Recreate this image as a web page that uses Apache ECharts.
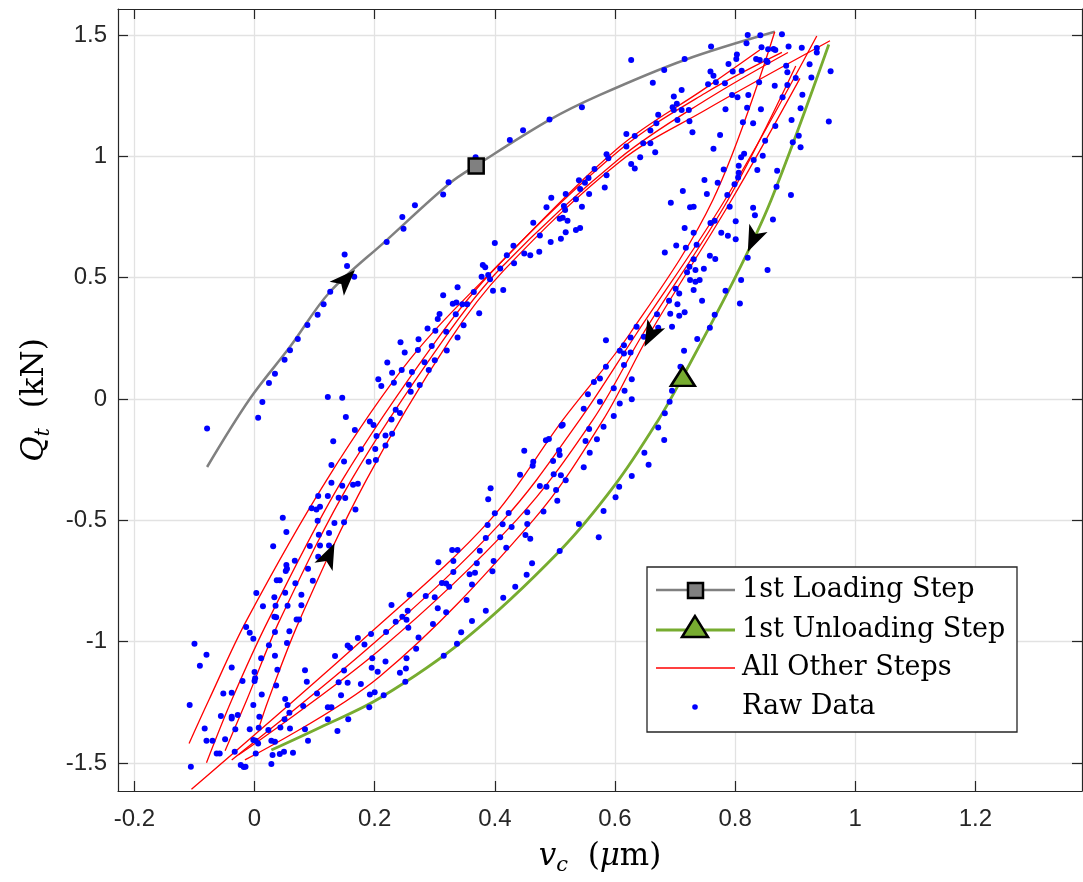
<!DOCTYPE html>
<html>
<head>
<meta charset="utf-8">
<title>Hysteresis steps</title>
<script src="https://cdn.jsdelivr.net/npm/echarts@6/dist/echarts.min.js"></script>
<style>
html, body { margin: 0; padding: 0; background: #fff; }
#main { width: 1083px; height: 882px; }
</style>
</head>
<body>
<div id="main"></div>
<script>
// tick values of the two axes
var xTicks = [-0.2, 0, 0.2, 0.4, 0.6, 0.8, 1, 1.2];
var yTicks = [-1.5, -1, -0.5, 0, 0.5, 1, 1.5];

// 1st loading step (grey) and 1st unloading step (green), [v_c, Q_t]
var firstLoading = [[-0.079,-0.28],[-0.008,0.0],[0.059,0.215],[0.125,0.44],[0.22,0.655],[0.325,0.889],[0.368,0.961],
    [0.491,1.15],[0.575,1.253],[0.716,1.397],[0.866,1.513]];
var firstUnloading = [[0.028,-1.446],[0.109,-1.353],[0.208,-1.233],[0.35,-0.99],[0.508,-0.626],[0.6,-0.354],
    [0.672,-0.087],[0.713,0.092],[0.8,0.5],[0.86,0.82],[0.956,1.461]];

// all other steps (red): loading branches then unloading branches
var loading1 = [[-0.109,-1.419],[-0.076,-1.24],[-0.013,-0.911],[0.12,-0.334],[0.258,0.161],[0.403,0.545],[0.608,1.04],[0.75,1.28],[0.841,1.438]];
var loading2 = [[-0.080,-1.499],[-0.038,-1.24],[0.023,-0.911],[0.146,-0.334],[0.303,0.243],[0.403,0.545],[0.608,1.026],[0.75,1.26],[0.878,1.428]];
var loading3 = [[-0.049,-1.449],[-0.013,-1.24],[0.042,-0.911],[0.161,-0.334],[0.314,0.243],[0.41,0.54],[0.608,0.992],[0.75,1.23],[0.888,1.428]];
var loading4 = [[0.006,-1.364],[0.023,-1.24],[0.075,-0.911],[0.186,-0.334],[0.325,0.243],[0.415,0.53],[0.608,0.978],[0.75,1.19],[0.958,1.476]];
var unloading1 = [[-0.105,-1.608],[0.192,-0.965],[0.392,-0.499],[0.513,-0.087],[0.625,0.27],[0.763,0.82],[0.866,1.513]];
var unloading2 = [[-0.038,-1.487],[0.208,-0.986],[0.414,-0.499],[0.541,-0.087],[0.636,0.27],[0.783,0.82],[0.936,1.496]];
var unloading3 = [[-0.027,-1.467],[0.208,-1.034],[0.436,-0.499],[0.563,-0.087],[0.647,0.27],[0.788,0.82],[0.901,1.372]];
var unloading4 = [[-0.016,-1.487],[0.208,-1.144],[0.464,-0.499],[0.580,-0.087],[0.658,0.27],[0.794,0.82],[0.908,1.321]];
var otherSteps = [loading1, loading2, loading3, loading4, unloading1, unloading2, unloading3, unloading4];

// markers on the first steps
var loadingMarker = [0.369, 0.960];
var unloadingMarker = [0.713, 0.093];

// direction arrows (centre) and their rotation in degrees (counter-clockwise from up)
var arrowPoints = [[0.152,0.493],[0.124,-0.643],[0.659,0.263],[0.830,0.656]];
var arrowAngles = [-44.5, -25, 153, 156];

// raw measurements
var rawData = [
    [-0.079,-0.121],[0.006,-0.077],[0.013,-0.012],[0.024,0.066],[0.034,0.104],[0.050,0.162],[0.059,0.201],[0.072,0.247],
    [0.088,0.305],[0.105,0.347],[0.115,0.391],[0.126,0.442],[0.150,0.595],[0.154,0.548],[0.166,0.504],[0.220,0.647],[0.248,0.702],
    [0.122,0.008],[0.146,0.005],[0.152,-0.074],[0.167,-0.128],[0.131,-0.174],[0.128,-0.272],[0.149,-0.257],[0.177,-0.207],
    [0.192,-0.093],[0.198,-0.107],[0.203,-0.152],[0.201,-0.206],[0.190,-0.258],[0.202,-0.251],[0.218,-0.150],[0.218,-0.191],
    [0.229,-0.143],[0.228,-0.084],[0.235,-0.044],[0.242,-0.058],[0.206,0.081],[0.211,0.054],[0.221,0.150],[0.229,0.108],
    [0.232,0.067],[0.243,0.234],[0.250,0.192],[0.257,0.059],
    [0.128,-0.345],[0.146,-0.357],[0.164,-0.353],[0.172,-0.349],[0.106,-0.400],[0.122,-0.400],[0.140,-0.407],[0.151,-0.408],
    [0.095,-0.450],[0.103,-0.455],[0.109,-0.444],[0.168,-0.455],[0.047,-0.489],[0.105,-0.501],[0.133,-0.511],[0.149,-0.508],
    [0.053,-0.548],[0.107,-0.559],[0.124,-0.552],[0.031,-0.607],[0.092,-0.606],[0.109,-0.604],[0.124,-0.603],[0.106,-0.650],
    [0.067,-0.666],[0.053,-0.684],[0.054,-0.699],[0.052,-0.709],[0.089,-0.699],[0.037,-0.747],[0.042,-0.747],[0.097,-0.749],
    [0.068,-0.759],[0.003,-0.799],[0.051,-0.798],[0.078,-0.806],[0.033,-0.817],[0.014,-0.854],[0.035,-0.852],[0.055,-0.852],
    [0.078,-0.850],[0.033,-0.897],[0.036,-0.899],[0.070,-0.908],[0.074,-0.908],[-0.014,-0.939],[-0.008,-0.963],[-0.002,-0.988],
    [0.034,-0.960],[0.058,-0.957],[0.054,-1.005],[0.024,-1.014],[-0.100,-1.008],[-0.080,-1.054],[-0.091,-1.099],[-0.038,-1.106],
    [0.011,-1.068],[0.034,-1.058],[0.038,-1.115],[0.000,-1.125],[0.001,-1.150],[0.000,-1.162],[-0.020,-1.162],[0.036,-1.180],
    [-0.052,-1.213],[-0.038,-1.210],[0.012,-1.217],[0.051,-1.236],
    [0.228,-0.849],[0.219,-0.960],[0.235,-0.918],[0.246,-0.897],[0.242,-1.128],[0.253,-1.068],[0.252,-1.110],[0.251,-1.165],
    [0.194,-0.968],[0.183,-1.011],[0.172,-0.985],[0.155,-1.016],[0.159,-1.025],[0.134,-1.059],[0.196,-1.068],[0.218,-1.081],
    [0.195,-1.107],[0.205,-1.124],[0.149,-1.119],[0.084,-1.118],[0.087,-1.165],[0.140,-1.167],[0.155,-1.169],[0.177,-1.174],
    [0.192,-1.217],[0.200,-1.208],[0.215,-1.220],[0.104,-1.213],[0.144,-1.220],
    [-0.108,-1.261],[-0.002,-1.261],[-0.038,-1.309],[-0.056,-1.306],[-0.038,-1.316],[-0.028,-1.302],[0.008,-1.309],[-0.083,-1.357],
    [-0.032,-1.361],[-0.008,-1.361],[0.007,-1.354],[0.023,-1.364],[0.043,-1.353],[0.059,-1.358],[0.050,-1.319],[0.058,-1.293],
    [0.055,-1.261],[-0.080,-1.408],[-0.070,-1.408],[-0.049,-1.402],[-0.002,-1.405],[0.002,-1.408],[0.006,-1.419],[0.028,-1.408],
    [0.034,-1.412],[-0.063,-1.460],[-0.058,-1.460],[-0.033,-1.453],[0.002,-1.460],[0.030,-1.467],[0.042,-1.463],[0.049,-1.453],
    [0.064,-1.457],[0.089,-1.408],[0.084,-1.361],[-0.106,-1.515],[-0.023,-1.508],[-0.018,-1.516],[-0.015,-1.515],[0.028,-1.504],
    [0.122,-1.270],[0.128,-1.270],[0.122,-1.319],[0.138,-1.368],[0.156,-1.319],[0.191,-1.270],[0.081,-1.265],
    [0.449,-0.213],[0.464,-0.258],[0.463,-0.275],[0.485,-0.170],[0.490,-0.165],[0.511,-0.110],[0.513,-0.106],[0.557,-0.124],
    [0.581,-0.114],[0.570,-0.166],[0.551,-0.173],[0.558,-0.221],[0.507,-0.211],[0.508,-0.231],[0.497,-0.255],[0.548,-0.281],
    [0.498,-0.310],[0.510,-0.314],[0.518,-0.335],[0.442,-0.312],[0.475,-0.358],[0.486,-0.361],[0.502,-0.375],[0.504,-0.419],
    [0.481,-0.463],[0.454,-0.467],[0.393,-0.368],[0.389,-0.413],[0.400,-0.471],[0.423,-0.470],[0.413,-0.516],[0.428,-0.527],
    [0.454,-0.515],[0.451,-0.560],[0.459,-0.576],[0.409,-0.570],[0.385,-0.573],[0.388,-0.519],[0.419,-0.613],[0.375,-0.625],
    [0.329,-0.622],[0.338,-0.622],[0.540,-0.515],[0.573,-0.570],[0.581,-0.461],[0.601,-0.405],[0.607,-0.361],[0.628,-0.317],
    [0.649,-0.221],[0.656,-0.271],[0.672,-0.117],[0.682,-0.169],[0.508,-0.626],[0.398,-0.667],[0.396,-0.710],[0.462,-0.677],
    [0.453,-0.724],[0.414,-0.819],[0.434,-0.773],[0.385,-0.872],[0.362,-0.915],[0.353,-0.828],[0.362,-0.764],[0.370,-0.677],
    [0.367,-0.716],[0.358,-0.722],[0.331,-0.667],[0.331,-0.713],[0.312,-0.758],[0.319,-0.760],[0.324,-0.773],[0.306,-0.672],
    [0.285,-0.812],[0.300,-0.817],[0.305,-0.862],[0.319,-0.879],[0.297,-0.927],[0.258,-0.806],[0.255,-0.872],[0.253,-0.909],
    [0.256,-0.942],[0.273,-0.983],[0.344,-0.961],[0.337,-1.008],[0.269,-1.029],[0.315,-1.058],
    [0.246,0.750],[0.267,0.798],[0.314,0.843],[0.323,0.893],[0.368,0.996],[0.425,1.067],[0.447,1.107],[0.491,1.152],[0.545,1.202],
    [0.400,0.643],[0.380,0.552],[0.384,0.543],[0.378,0.504],[0.389,0.511],[0.392,0.494],[0.409,0.538],[0.420,0.592],
    [0.431,0.632],[0.432,0.559],[0.449,0.600],[0.459,0.592],[0.474,0.607],[0.464,0.726],[0.475,0.674],[0.493,0.647],
    [0.486,0.790],[0.494,0.829],[0.510,0.660],[0.508,0.743],[0.513,0.747],[0.521,0.735],[0.518,0.687],[0.515,0.795],
    [0.517,0.779],[0.518,0.845],[0.535,0.823],[0.545,0.792],[0.535,0.696],[0.542,0.705],[0.542,0.865],[0.540,0.901],
    [0.550,0.891],[0.557,0.845],[0.566,0.948],[0.556,0.911],[0.586,1.009],[0.589,0.992],[0.586,0.922],[0.583,0.872],
    [0.314,0.428],[0.338,0.461],[0.330,0.393],[0.336,0.398],[0.346,0.391],[0.354,0.391],[0.365,0.441],[0.397,0.446],
    [0.414,0.449],[0.374,0.353],[0.308,0.350],[0.305,0.330],[0.301,0.281],[0.288,0.291],[0.319,0.277],[0.335,0.349],
    [0.348,0.304],[0.338,0.254],[0.273,0.246],
    [0.627,1.397],[0.682,1.356],[0.716,1.401],[0.760,1.452],[0.821,1.500],[0.842,1.499],[0.878,1.503],[0.864,1.442],
    [0.867,1.438],[0.819,1.466],[0.844,1.449],[0.855,1.441],[0.889,1.452],[0.911,1.447],[0.936,1.446],[0.936,1.428],
    [0.803,1.420],[0.802,1.401],[0.789,1.380],[0.835,1.401],[0.841,1.397],[0.852,1.394],[0.854,1.389],[0.885,1.373],
    [0.887,1.346],[0.924,1.379],[0.959,1.351],[0.927,1.325],[0.796,1.349],[0.811,1.353],[0.759,1.349],[0.764,1.332],
    [0.768,1.305],[0.755,1.297],[0.783,1.301],[0.663,1.303],[0.711,1.273],[0.698,1.246],[0.703,1.217],[0.711,1.191],
    [0.696,1.202],[0.698,1.191],[0.723,1.191],[0.724,1.144],[0.704,1.150],[0.729,1.099],[0.672,1.171],[0.669,1.136],
    [0.659,1.106],[0.633,1.084],[0.619,1.092],[0.619,1.040],[0.647,1.054],[0.659,1.054],[0.667,1.017],[0.642,0.996],
    [0.627,0.968],[0.633,0.950],[0.713,0.857],[0.795,1.253],[0.804,1.243],[0.822,1.253],[0.784,1.194],[0.820,1.200],
    [0.843,1.194],[0.866,1.291],[0.879,1.243],[0.887,1.294],[0.840,1.305],[0.901,1.323],[0.912,1.254],[0.909,1.198],
    [0.894,1.150],[0.813,1.140],[0.830,1.136],[0.775,1.088],[0.764,1.031],[0.815,1.011],[0.806,0.961],[0.806,0.932],
    [0.781,0.946],[0.805,0.913],[0.810,0.996],[0.831,0.985],[0.837,0.944],[0.846,1.002],[0.850,1.064],[0.867,1.125],
    [0.906,1.085],[0.909,1.037],[0.896,1.058],[0.870,0.941],[0.956,1.143],[0.869,0.875],[0.893,0.841],[0.799,0.885],
    [0.771,0.891],[0.749,0.902],[0.753,0.845],[0.787,0.841],
    [0.693,0.809],[0.725,0.790],[0.731,0.792],[0.791,0.792],[0.830,0.788],[0.833,0.757],[0.863,0.740],[0.801,0.733],
    [0.766,0.735],[0.759,0.725],[0.716,0.705],[0.731,0.685],[0.777,0.685],[0.788,0.673],[0.801,0.658],[0.702,0.633],
    [0.718,0.623],[0.736,0.636],[0.683,0.604],[0.758,0.590],[0.767,0.577],[0.731,0.576],[0.821,0.582],[0.724,0.545],
    [0.734,0.532],[0.748,0.537],[0.720,0.522],[0.854,0.532],[0.725,0.490],[0.734,0.483],[0.741,0.490],[0.810,0.490],
    [0.701,0.454],[0.731,0.449],[0.707,0.435],[0.784,0.446],[0.690,0.405],[0.704,0.391],[0.745,0.405],[0.808,0.394],
    [0.692,0.351],[0.707,0.343],[0.716,0.358],[0.670,0.349],[0.766,0.347],[0.636,0.298],[0.672,0.294],[0.695,0.298],
    [0.758,0.294],[0.585,0.242],[0.626,0.254],[0.648,0.257],[0.737,0.247],[0.608,0.199],[0.615,0.188],[0.626,0.192],
    [0.615,0.222],[0.715,0.199],[0.585,0.133],[0.615,0.140],[0.628,0.082],[0.709,0.133],[0.575,0.085],[0.598,0.044],
    [0.616,0.034],[0.695,0.034],[0.575,-0.011],[0.608,-0.018],[0.628,-0.001],[0.691,-0.011],[0.598,-0.070],[0.683,-0.059],
    [0.262,0.111],[0.272,0.202],[0.283,0.152],[0.295,0.218],[0.275,0.058],[0.260,0.030],[0.300,0.160],[0.245,0.120],
    [0.290,0.120],[0.320,0.200],[0.555,0.020],[0.548,-0.040],[0.565,0.070]
];

var axisColor = '#262626';
var gridColor = '#e2e2e2';
var serif = 'DejaVu Serif';
// notched arrow head, tip up, centred on its box
var arrowHead = 'path://M0,-13L10,13L0,6.5L-10,13Z';

var chart = echarts.init(document.getElementById('main'));

// 一条曲线
function curve(data, color, width) {
    return {
        type: 'line',
        data: data,
        smooth: 0.35,
        symbol: 'none',
        silent: true,
        lineStyle: { color: color, width: width },
        z: 2
    };
}

var series = [];
series.push(curve(firstLoading, '#808080', 2.5));
series.push(curve(firstUnloading, '#77ac30', 2.8));
for (var i = 0; i < otherSteps.length; i++) {
    series.push(curve(otherSteps[i], '#ff0000', 1.3));
}
series.push({
    type: 'scatter', data: rawData, symbol: 'circle', symbolSize: 6,
    itemStyle: { color: '#0000ff', opacity: 1 }, silent: true, z: 3
});
series.push({
    type: 'scatter', data: [loadingMarker], symbol: 'rect', symbolSize: 15,
    itemStyle: { color: '#808080', borderColor: '#000', borderWidth: 2.5, opacity: 1 }, z: 4
});
series.push({
    type: 'scatter', data: [unloadingMarker], symbol: 'triangle', symbolSize: [24, 19],
    itemStyle: { color: '#77ac30', borderColor: '#000', borderWidth: 2.5, opacity: 1 }, z: 4
});
var arrowData = [];
for (var j = 0; j < arrowPoints.length; j++) {
    arrowData.push({ value: arrowPoints[j], symbolRotate: arrowAngles[j] });
}
series.push({
    type: 'scatter', data: arrowData, symbol: arrowHead, symbolSize: [20, 26],
    itemStyle: { color: '#000', opacity: 1 }, z: 5
});

// 坐标轴公共部分
function baseAxis(min, max, split, ticks, pos, withLabels) {
    return {
        type: 'value',
        min: min,
        max: max,
        splitNumber: split,
        position: pos,
        axisLine: { show: true, onZero: false, lineStyle: { color: axisColor, width: 1.2 } },
        axisTick: { show: true, inside: true, length: 10, customValues: ticks, lineStyle: { color: axisColor, width: 1.2 } },
        axisLabel: withLabels ? {
            show: true, customValues: ticks, color: axisColor,
            fontFamily: 'Liberation Sans', fontSize: 24
        } : { show: false },
        splitLine: withLabels ? { show: true, lineStyle: { color: gridColor, width: 1.3 } } : { show: false }
    };
}

var titleStyle = {
    fontFamily: serif, fontSize: 31, color: '#000',
    rich: {
        i: { fontFamily: serif, fontSize: 31, fontStyle: 'italic', color: '#000', lineHeight: 38 },
        s: { fontFamily: serif, fontSize: 21, fontStyle: 'italic', color: '#000', lineHeight: 22, verticalAlign: 'bottom' }
    }
};

var xBottom = baseAxis(-0.2273, 1.3775, 8, xTicks, 'bottom', true);
xBottom.axisLabel.margin = 16;
xBottom.name = '{i|v}{s|c}  ({i|\u03bc}m)';
xBottom.nameLocation = 'middle';
xBottom.nameGap = 47;
xBottom.nameTextStyle = titleStyle;
var xTop = baseAxis(-0.2273, 1.3775, 8, xTicks, 'top', false);

var yLeft = baseAxis(-1.615, 1.607, 6, yTicks, 'left', true);
yLeft.axisLabel.margin = 11;
yLeft.name = '{i|Q}{s|t}  (kN)';
yLeft.nameLocation = 'middle';
yLeft.nameRotate = 90;
yLeft.nameGap = 64;
yLeft.nameTextStyle = titleStyle;
var yRight = baseAxis(-1.615, 1.607, 6, yTicks, 'right', false);

// 图例：手工画，和原图一致
var legendRows = [
    { text: '1st Loading Step', y: 590 },
    { text: '1st Unloading Step', y: 630 },
    { text: 'All Other Steps', y: 668 },
    { text: 'Raw Data', y: 707 }
];
var legendEls = [
    { type: 'rect', shape: { x: 647, y: 567, width: 370, height: 165 },
      style: { fill: '#fff', stroke: axisColor, lineWidth: 1.3 }, z: 100 },
    { type: 'line', shape: { x1: 656, y1: 590, x2: 735, y2: 590 }, style: { stroke: '#808080', lineWidth: 2.5 }, z: 101 },
    { type: 'rect', shape: { x: 688, y: 583, width: 15, height: 15 },
      style: { fill: '#808080', stroke: '#000', lineWidth: 2.5 }, z: 102 },
    { type: 'line', shape: { x1: 656, y1: 630, x2: 735, y2: 630 }, style: { stroke: '#77ac30', lineWidth: 2.8 }, z: 101 },
    { type: 'polygon', shape: { points: [[695, 616], [682, 637], [708, 637]] },
      style: { fill: '#77ac30', stroke: '#000', lineWidth: 2.5 }, z: 102 },
    { type: 'line', shape: { x1: 656, y1: 668, x2: 735, y2: 668 }, style: { stroke: '#ff0000', lineWidth: 1.3 }, z: 101 },
    { type: 'circle', shape: { cx: 695, cy: 707, r: 2.8 }, style: { fill: '#0000ff' }, z: 101 }
];
legendRows.forEach(function (row) {
    legendEls.push({
        type: 'text', x: 742, y: row.y, z: 101,
        style: { text: row.text, fill: '#000', fontFamily: serif, fontSize: 27, verticalAlign: 'middle' }
    });
});

chart.setOption({
    animation: false,
    backgroundColor: '#fff',
    grid: { left: 118, right: 1, top: 9, bottom: 91, containLabel: false },
    xAxis: [xBottom, xTop],
    yAxis: [yLeft, yRight],
    series: series,
    graphic: { elements: legendEls }
});
</script>
</body>
</html>
